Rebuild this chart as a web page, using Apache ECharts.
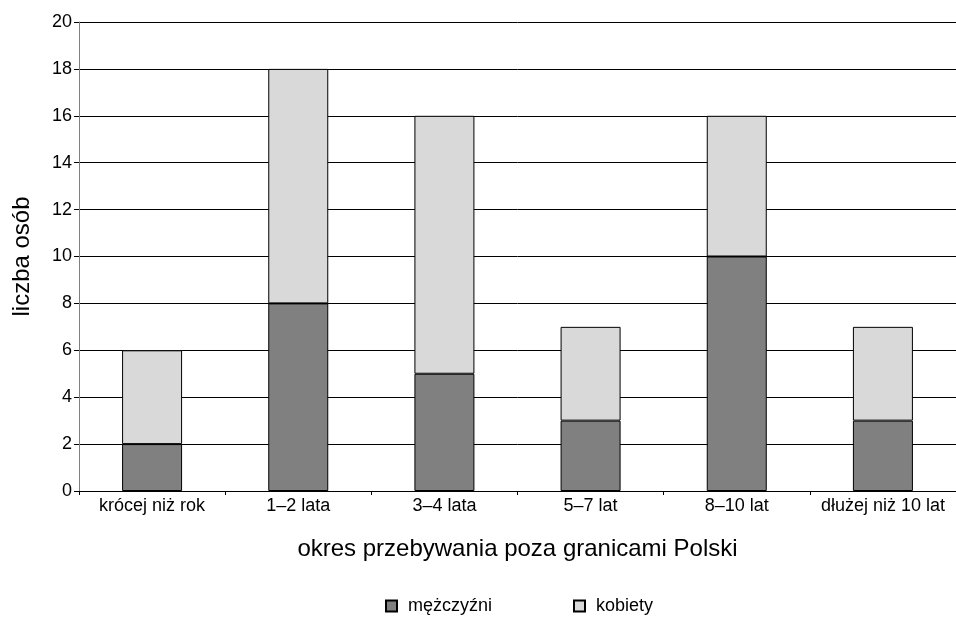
<!DOCTYPE html>
<html><head><meta charset="utf-8">
<script src="https://cdn.jsdelivr.net/npm/echarts@6/dist/echarts.min.js"></script>
<style>html,body{margin:0;padding:0;background:#fff}#c{width:956px;height:618px}</style>
</head><body><div id="c"></div>
<script>
const categories = ['krócej niż rok', '1–2 lata', '3–4 lata', '5–7 lat', '8–10 lat', 'dłużej niż 10 lat'];
const men = [2, 8, 5, 3, 10, 3];
const women = [4, 10, 11, 4, 6, 4];
const seriesNames = ['mężczyźni', 'kobiety'];
const chart = echarts.init(document.getElementById('c'));
const font = 'Liberation Sans, Arial, sans-serif';
const legendBase = {
  top: 597, itemWidth: 11, itemHeight: 11, padding: 0,
  textStyle: { fontFamily: font, fontSize: 18, color: '#000', padding: [0, 0, 0, 6] }
};
chart.setOption({
  animation: false,
  textStyle: { fontFamily: font },
  grid: { left: 79, top: 22, width: 881, height: 469 },
  legend: [
    Object.assign({}, legendBase, { left: 385, data: [{ name: seriesNames[0], icon: 'rect' }] }),
    Object.assign({}, legendBase, { left: 573, data: [{ name: seriesNames[1], icon: 'rect' }] })
  ],
  xAxis: {
    type: 'category', data: categories,
    name: 'okres przebywania poza granicami Polski', nameLocation: 'middle', nameGap: 46,
    nameTextStyle: { fontFamily: font, fontSize: 24, color: '#000' },
    axisLine: { lineStyle: { color: '#000', width: 1 } },
    axisTick: { show: true, length: 4, lineStyle: { color: '#000' } },
    axisLabel: { fontFamily: font, fontSize: 18, color: '#000', margin: 6, interval: 0 }
  },
  yAxis: {
    type: 'value', min: 0, max: 20, interval: 2,
    name: 'liczba osób', nameLocation: 'middle', nameGap: 45,
    nameTextStyle: { fontFamily: font, fontSize: 24, color: '#000' },
    axisLine: { show: true, lineStyle: { color: '#808080' } },
    axisTick: { show: true, length: 5, lineStyle: { color: '#000' } },
    axisLabel: { fontFamily: font, fontSize: 18, color: '#000', margin: 7 },
    splitLine: { lineStyle: { color: '#000', width: 1 } }
  },
  series: [
    { name: seriesNames[0], type: 'bar', stack: 's', data: men, barWidth: 60,
      itemStyle: { color: '#808080', borderColor: '#000', borderWidth: 1 } },
    { name: seriesNames[1], type: 'bar', stack: 's', data: women, barWidth: 60,
      itemStyle: { color: '#d9d9d9', borderColor: '#000', borderWidth: 1 } }
  ]
});
</script></body></html>
